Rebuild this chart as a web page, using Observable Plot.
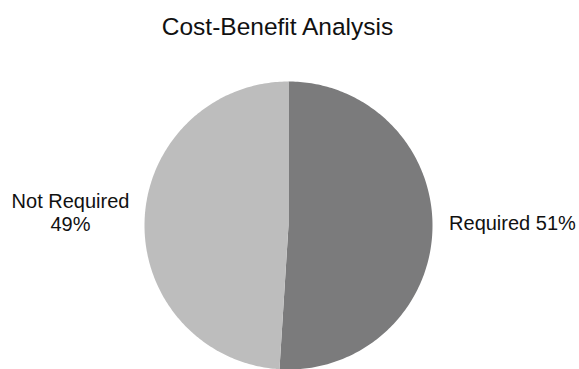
<!DOCTYPE html>
<html>
<head>
<meta charset="utf-8">
<script src="https://cdn.jsdelivr.net/npm/d3@7"></script>
<script src="https://cdn.jsdelivr.net/npm/@observablehq/plot@0.6"></script>
<style>
  html, body { margin: 0; padding: 0; background: #fff; }
  #chart svg { display: block; }
</style>
</head>
<body>
<div id="chart"></div>
<script>
const title = "Cost-Benefit Analysis";
const categories = ["Required", "Not Required"];
const values = [51, 49];
const colors = ["#7b7b7c", "#bdbdbd"];
const labels = ["Required 51%", "Not Required\n49%"];

const total = d3.sum(values);
let acc = 0;
const slices = categories.map((c, i) => {
  const a0 = acc / total * 2 * Math.PI;
  acc += values[i];
  const a1 = acc / total * 2 * Math.PI;
  return {category: c, a0, a1, label: labels[i]};
});

const pts = [];
for (const s of slices) {
  pts.push({category: s.category, x: 0, y: 0});
  const n = 200;
  for (let k = 0; k <= n; k++) {
    const a = s.a0 + (s.a1 - s.a0) * k / n;
    pts.push({category: s.category, x: Math.sin(a), y: Math.cos(a)});
  }
  pts.push({category: s.category, x: 0, y: 0});
}

const labelData = [
  {text: slices[0].label, x: 1.115, y: 0},
  {text: slices[1].label, x: -1.514, y: 0}
];

const chart = Plot.plot({
  width: 579,
  height: 369,
  marginLeft: 144,
  marginRight: 147,
  marginTop: 81,
  marginBottom: 0,
  style: {fontFamily: "'Liberation Sans', Arial, sans-serif", background: "#fff"},
  x: {domain: [-1, 1], axis: null},
  y: {domain: [-1, 1], axis: null},
  color: {domain: categories, range: colors},
  marks: [
    Plot.line(pts, {x: "x", y: "y", z: "category", fill: "category", stroke: null, curve: "linear"}),
    Plot.text([labelData[0]], {x: "x", y: "y", text: "text", textAnchor: "start", dy: -2, fontSize: 20, fill: "#111"}),
    Plot.text([labelData[1]], {x: "x", y: "y", text: "text", textAnchor: "middle", dy: -13, fontSize: 20, lineHeight: 1.15, fill: "#111"}),
    Plot.text([title], {frameAnchor: "top", text: d => d, dx: -11, dy: -64, fontSize: 24.5, fill: "#111"})
  ]
});
document.getElementById("chart").appendChild(chart);
</script>
</body>
</html>
